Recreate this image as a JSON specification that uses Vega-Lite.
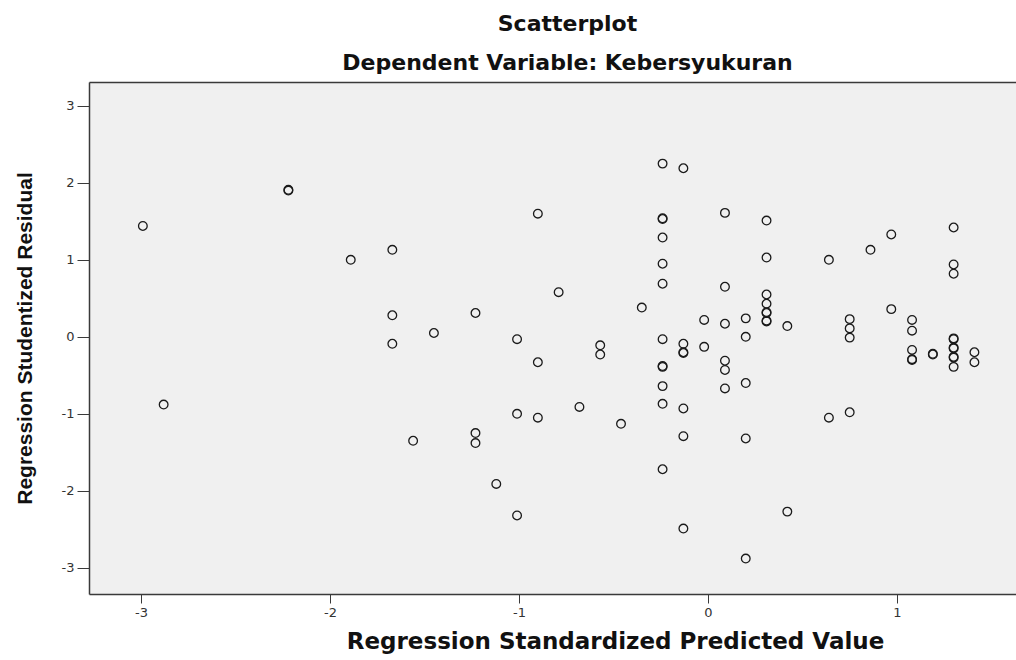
{
  "$schema": "https://vega.github.io/schema/vega-lite/v6.json",
  "autosize": {"type": "none"},
  "width": 927,
  "height": 512,
  "padding": {"left": 89, "top": 82, "right": 0, "bottom": 66},
  "background": "white",
  "config": {
    "view": {"fill": "#f0f0f0", "stroke": null},
    "axis": {"grid": false, "domainColor": "#3a3a3a", "domainWidth": 1.5, "tickColor": "#3a3a3a", "tickWidth": 1, "labelColor": "#333333", "labelFont": "DejaVu Sans", "labelFontSize": 13, "titleColor": "#111111"}
  },
  "title": {
    "text": "Scatterplot",
    "subtitle": "Dependent Variable: Kebersyukuran",
    "anchor": "middle",
    "dx": 15,
    "font": "DejaVu Sans",
    "fontSize": 22,
    "fontWeight": "bold",
    "color": "#111111",
    "subtitleFont": "DejaVu Sans",
    "subtitleFontSize": 22,
    "subtitleFontWeight": "bold",
    "subtitleColor": "#111111",
    "subtitlePadding": 17,
    "offset": 7
  },
  "data": {
    "values": [
      {"pred": -2.99, "resid": 1.44},
      {"pred": -2.22, "resid": 1.90},
      {"pred": -2.22, "resid": 1.91},
      {"pred": -1.89, "resid": 1.00},
      {"pred": -1.67, "resid": 1.13},
      {"pred": -1.67, "resid": 0.28},
      {"pred": -1.67, "resid": -0.09},
      {"pred": -1.45, "resid": 0.05},
      {"pred": -1.23, "resid": 0.31},
      {"pred": -2.88, "resid": -0.88},
      {"pred": -1.56, "resid": -1.35},
      {"pred": -1.23, "resid": -1.25},
      {"pred": -1.23, "resid": -1.38},
      {"pred": -1.12, "resid": -1.91},
      {"pred": -1.01, "resid": -2.32},
      {"pred": -1.01, "resid": -0.03},
      {"pred": -1.01, "resid": -1.00},
      {"pred": -0.90, "resid": 1.60},
      {"pred": -0.90, "resid": -0.33},
      {"pred": -0.90, "resid": -1.05},
      {"pred": -0.79, "resid": 0.58},
      {"pred": -0.68, "resid": -0.91},
      {"pred": -0.57, "resid": -0.11},
      {"pred": -0.57, "resid": -0.23},
      {"pred": -0.46, "resid": -1.13},
      {"pred": -0.35, "resid": 0.38},
      {"pred": -0.24, "resid": 2.25},
      {"pred": -0.24, "resid": 1.53},
      {"pred": -0.24, "resid": 1.54},
      {"pred": -0.24, "resid": 1.29},
      {"pred": -0.24, "resid": 0.95},
      {"pred": -0.24, "resid": 0.69},
      {"pred": -0.24, "resid": -0.03},
      {"pred": -0.24, "resid": -0.39},
      {"pred": -0.24, "resid": -0.38},
      {"pred": -0.24, "resid": -0.64},
      {"pred": -0.24, "resid": -0.87},
      {"pred": -0.24, "resid": -1.72},
      {"pred": -0.13, "resid": 2.19},
      {"pred": -0.13, "resid": -0.09},
      {"pred": -0.13, "resid": -0.20},
      {"pred": -0.13, "resid": -0.21},
      {"pred": -0.13, "resid": -0.93},
      {"pred": -0.13, "resid": -1.29},
      {"pred": -0.13, "resid": -2.49},
      {"pred": -0.02, "resid": 0.22},
      {"pred": -0.02, "resid": -0.13},
      {"pred": 0.09, "resid": 1.61},
      {"pred": 0.09, "resid": 0.65},
      {"pred": 0.09, "resid": 0.17},
      {"pred": 0.09, "resid": -0.31},
      {"pred": 0.09, "resid": -0.43},
      {"pred": 0.09, "resid": -0.67},
      {"pred": 0.20, "resid": 0.24},
      {"pred": 0.20, "resid": 0.00},
      {"pred": 0.20, "resid": -0.60},
      {"pred": 0.20, "resid": -1.32},
      {"pred": 0.20, "resid": -2.88},
      {"pred": 0.31, "resid": 1.51},
      {"pred": 0.31, "resid": 1.03},
      {"pred": 0.31, "resid": 0.55},
      {"pred": 0.31, "resid": 0.43},
      {"pred": 0.31, "resid": 0.32},
      {"pred": 0.31, "resid": 0.31},
      {"pred": 0.31, "resid": 0.20},
      {"pred": 0.31, "resid": 0.21},
      {"pred": 0.42, "resid": 0.14},
      {"pred": 0.42, "resid": -2.27},
      {"pred": 0.64, "resid": 1.00},
      {"pred": 0.64, "resid": -1.05},
      {"pred": 0.75, "resid": 0.23},
      {"pred": 0.75, "resid": 0.11},
      {"pred": 0.75, "resid": -0.01},
      {"pred": 0.75, "resid": -0.98},
      {"pred": 0.86, "resid": 1.13},
      {"pred": 0.97, "resid": 1.33},
      {"pred": 0.97, "resid": 0.36},
      {"pred": 1.08, "resid": 0.22},
      {"pred": 1.08, "resid": 0.08},
      {"pred": 1.08, "resid": -0.17},
      {"pred": 1.08, "resid": -0.29},
      {"pred": 1.08, "resid": -0.30},
      {"pred": 1.19, "resid": -0.23},
      {"pred": 1.19, "resid": -0.22},
      {"pred": 1.30, "resid": 1.42},
      {"pred": 1.30, "resid": 0.94},
      {"pred": 1.30, "resid": 0.82},
      {"pred": 1.30, "resid": -0.03},
      {"pred": 1.30, "resid": -0.02},
      {"pred": 1.30, "resid": -0.15},
      {"pred": 1.30, "resid": -0.14},
      {"pred": 1.30, "resid": -0.27},
      {"pred": 1.30, "resid": -0.26},
      {"pred": 1.30, "resid": -0.39},
      {"pred": 1.41, "resid": -0.20},
      {"pred": 1.41, "resid": -0.33}
    ]
  },
  "layer": [
    {
      "mark": {"type": "point", "shape": "circle", "filled": false, "size": 75, "stroke": "#1a1a1a", "strokeWidth": 1.3, "opacity": 1},
      "encoding": {
        "x": {
          "field": "pred", "type": "quantitative",
          "scale": {"domain": [-3.275, 1.63], "nice": false, "zero": false},
          "axis": {"orient": "bottom", "values": [-3, -2, -1, 0, 1], "labelExpr": "'' + datum.value", "tickSize": 9, "labelPadding": 3, "title": "Regression Standardized Predicted Value", "titleFont": "DejaVu Sans", "titleFontSize": 23, "titleFontWeight": "bold", "titlePadding": 11, "titleX": 526}
        },
        "y": {
          "field": "resid", "type": "quantitative",
          "scale": {"domain": [-3.34, 3.31], "nice": false, "zero": false},
          "axis": {"values": [-3, -2, -1, 0, 1, 2, 3], "labelExpr": "'' + datum.value", "tickSize": 12, "labelPadding": 3, "title": "Regression Studentized Residual", "titleFont": "Liberation Sans", "titleFontSize": 21, "titleFontWeight": "bold", "titlePadding": 26}
        }
      }
    },
    {
      "mark": {"type": "point", "opacity": 0},
      "encoding": {
        "x": {
          "field": "pred", "type": "quantitative",
          "axis": {"orient": "top", "labels": false, "ticks": false, "title": null, "domain": true}
        }
      }
    }
  ],
  "resolve": {"axis": {"x": "independent"}}
}
